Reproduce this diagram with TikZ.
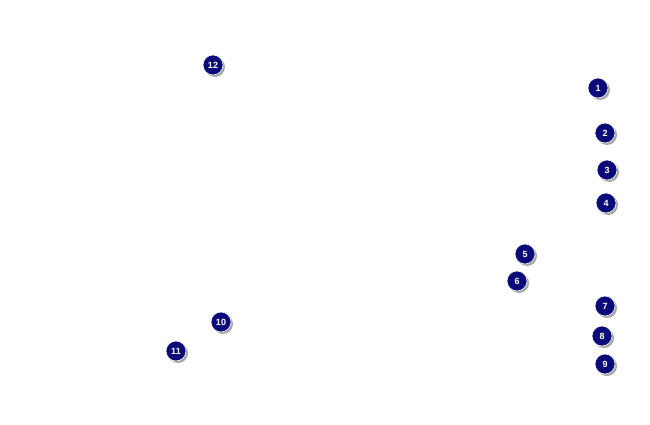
\documentclass[tikz,border=0pt]{standalone}
\usepackage{fontspec}
\setmainfont{Liberation Sans}
\definecolor{marknavy}{RGB}{10,10,120}
\tikzset{
  callout/.style={circle,fill=marknavy,text=white,font=\bfseries\fontsize{9}{9}\selectfont,
    minimum size=20pt,inner sep=0pt,draw=white,line width=0.6pt},
  calloutshadow/.style={circle,fill=black!35,minimum size=20pt,inner sep=0pt}
}
\begin{document}
\begin{tikzpicture}[x=1pt,y=-1pt]
	\useasboundingbox (0,0) rectangle (650,425);
	\foreach \n/\px/\py in {12/213/65,1/598/88,2/605/133,3/607/170,4/606/203,5/525/254,6/517/281,7/605/306,8/602/336,9/605/364,10/221/322,11/176/351}{
		\node[calloutshadow] (s\n) at (\px+2,\py+2) {};
		\node[callout] (m\n) at (\px,\py) {\n};
	}
\end{tikzpicture}
\end{document}
